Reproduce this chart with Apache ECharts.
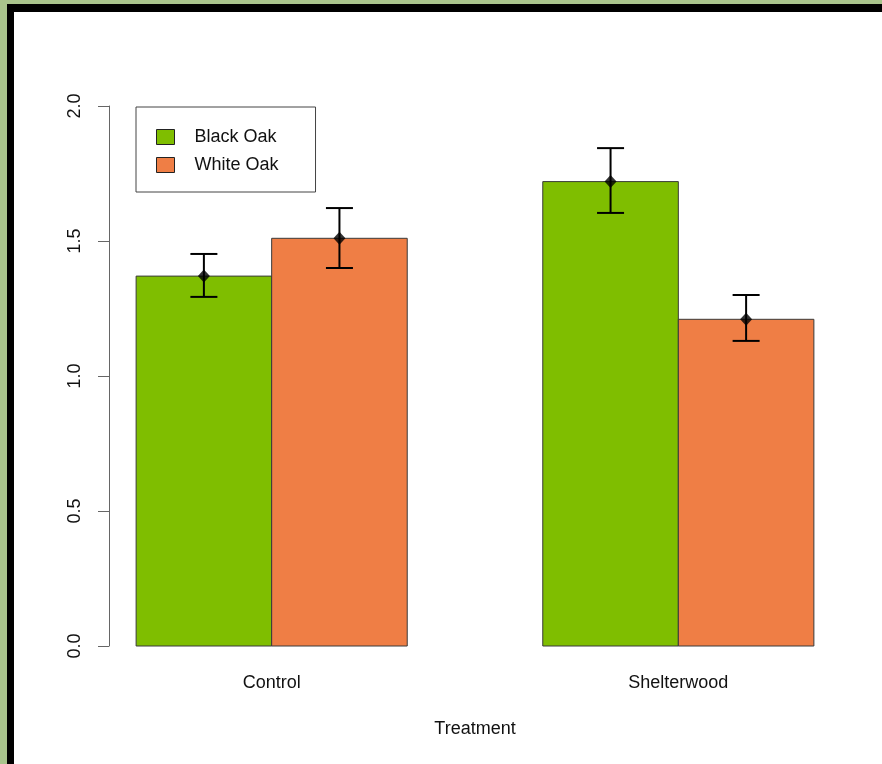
<!DOCTYPE html>
<html>
<head>
<meta charset="utf-8">
<script src="https://cdn.jsdelivr.net/npm/echarts@6/dist/echarts.min.js"></script>
<style>
  html, body { margin: 0; padding: 0; width: 882px; height: 764px; overflow: hidden; background: #a9c48c; }
  #frame { position: absolute; left: 7px; top: 4px; right: 0; bottom: 0; background: #000; }
  #paper { position: absolute; left: 14px; top: 12px; right: 0; bottom: 0; background: #fff; }
  #chart { position: absolute; left: 0; top: 0; width: 882px; height: 764px; }
</style>
</head>
<body>
<div id="frame"></div>
<div id="paper"></div>
<div id="chart"></div>
<script>
// data
const treatments = ['Control', 'Shelterwood']
const species = ['Black Oak', 'White Oak']
const blackOakMean = [1.37, 1.72]
const whiteOakMean = [1.51, 1.21]
const blackOakLow = [1.293, 1.604]
const blackOakHigh = [1.452, 1.844]
const whiteOakLow = [1.400, 1.130]
const whiteOakHigh = [1.622, 1.300]
const yTicks = [0, 0.5, 1, 1.5, 2]

const colors = ['#7fbe00', '#ef7e45']
const font = "'Liberation Sans', Arial, sans-serif"

// R barplot(beside=TRUE) layout: 1 unit space before each group, bars 1 unit wide
const barLeft = (g, s) => 1 + g * 3 + s
const means = [blackOakMean, whiteOakMean]
const lows = [blackOakLow, whiteOakLow]
const highs = [blackOakHigh, whiteOakHigh]

function barSeries(s) {
  return {
    name: species[s],
    type: 'custom',
    itemStyle: { color: colors[s] },
    data: means[s].map((v, g) => [barLeft(g, s), v]),
    renderItem: (params, api) => {
      const x0 = api.value(0)
      const p0 = api.coord([x0, api.value(1)])
      const p1 = api.coord([x0 + 1, 0])
      return {
        type: 'rect',
        shape: { x: p0[0], y: p0[1], width: p1[0] - p0[0], height: p1[1] - p0[1] },
        style: { fill: colors[s], stroke: '#3a3a3a', lineWidth: 1 },
      }
    },
  }
}

const errData = []
const meanPts = []
for (let s = 0; s < 2; s++) {
  for (let g = 0; g < treatments.length; g++) {
    const xc = barLeft(g, s) + 0.5
    errData.push([xc, lows[s][g], highs[s][g]])
    meanPts.push([xc, means[s][g]])
  }
}

const option = {
  animation: false,
  backgroundColor: 'transparent',
  textStyle: { fontFamily: font },
  grid: { left: 109, right: 41, top: 106, bottom: 118 },
  legend: {
    data: species,
    orient: 'vertical',
    left: 136,
    top: 107,
    padding: [21, 37, 18, 20],
    itemGap: 10,
    itemWidth: 18,
    itemHeight: 15,
    icon: 'rect',
    borderColor: '#444',
    borderWidth: 1,
    itemStyle: { borderColor: '#222', borderWidth: 1 },
    textStyle: { fontFamily: font, fontSize: 18, color: '#111', padding: [0, 0, 0, 15] },
  },
  xAxis: {
    type: 'value',
    min: 0.8,
    max: 6.2,
    name: 'Treatment',
    nameLocation: 'middle',
    nameGap: 74,
    nameTextStyle: { fontFamily: font, fontSize: 18, color: '#111' },
    axisLine: { show: false },
    axisTick: { show: false },
    splitLine: { show: false },
    axisLabel: {
      customValues: treatments.map((t, g) => 2 + g * 3),
      formatter: v => treatments[Math.round((v - 2) / 3)],
      fontFamily: font,
      fontSize: 18,
      color: '#111',
      margin: 28,
    },
  },
  yAxis: {
    type: 'value',
    min: yTicks[0],
    max: yTicks[yTicks.length - 1],
    interval: 0.5,
    axisLine: { show: true, lineStyle: { color: '#666', width: 1 } },
    axisTick: { show: true, length: 11, lineStyle: { color: '#666', width: 1 } },
    splitLine: { show: false },
    axisLabel: {
      rotate: 90,
      formatter: v => v.toFixed(1),
      fontFamily: font,
      fontSize: 18,
      color: '#111',
      margin: 25,
    },
  },
  series: [
    barSeries(0),
    barSeries(1),
    {
      type: 'custom',
      silent: true,
      data: errData,
      z: 5,
      renderItem: (params, api) => {
        const x = api.value(0)
        const lo = api.coord([x, api.value(1)])
        const hi = api.coord([x, api.value(2)])
        const half = 13.5
        const st = { stroke: '#000', lineWidth: 2 }
        return {
          type: 'group',
          children: [
            { type: 'line', shape: { x1: lo[0], y1: lo[1], x2: hi[0], y2: hi[1] }, style: st },
            { type: 'line', shape: { x1: lo[0] - half, y1: lo[1], x2: lo[0] + half, y2: lo[1] }, style: st },
            { type: 'line', shape: { x1: hi[0] - half, y1: hi[1], x2: hi[0] + half, y2: hi[1] }, style: st },
          ],
        }
      },
    },
    {
      type: 'scatter',
      silent: true,
      data: meanPts,
      symbol: 'diamond',
      symbolSize: [12, 13],
      itemStyle: { color: '#000' },
      z: 6,
    },
  ],
}

const chart = echarts.init(document.getElementById('chart'))
chart.setOption(option)
</script>
</body>
</html>
